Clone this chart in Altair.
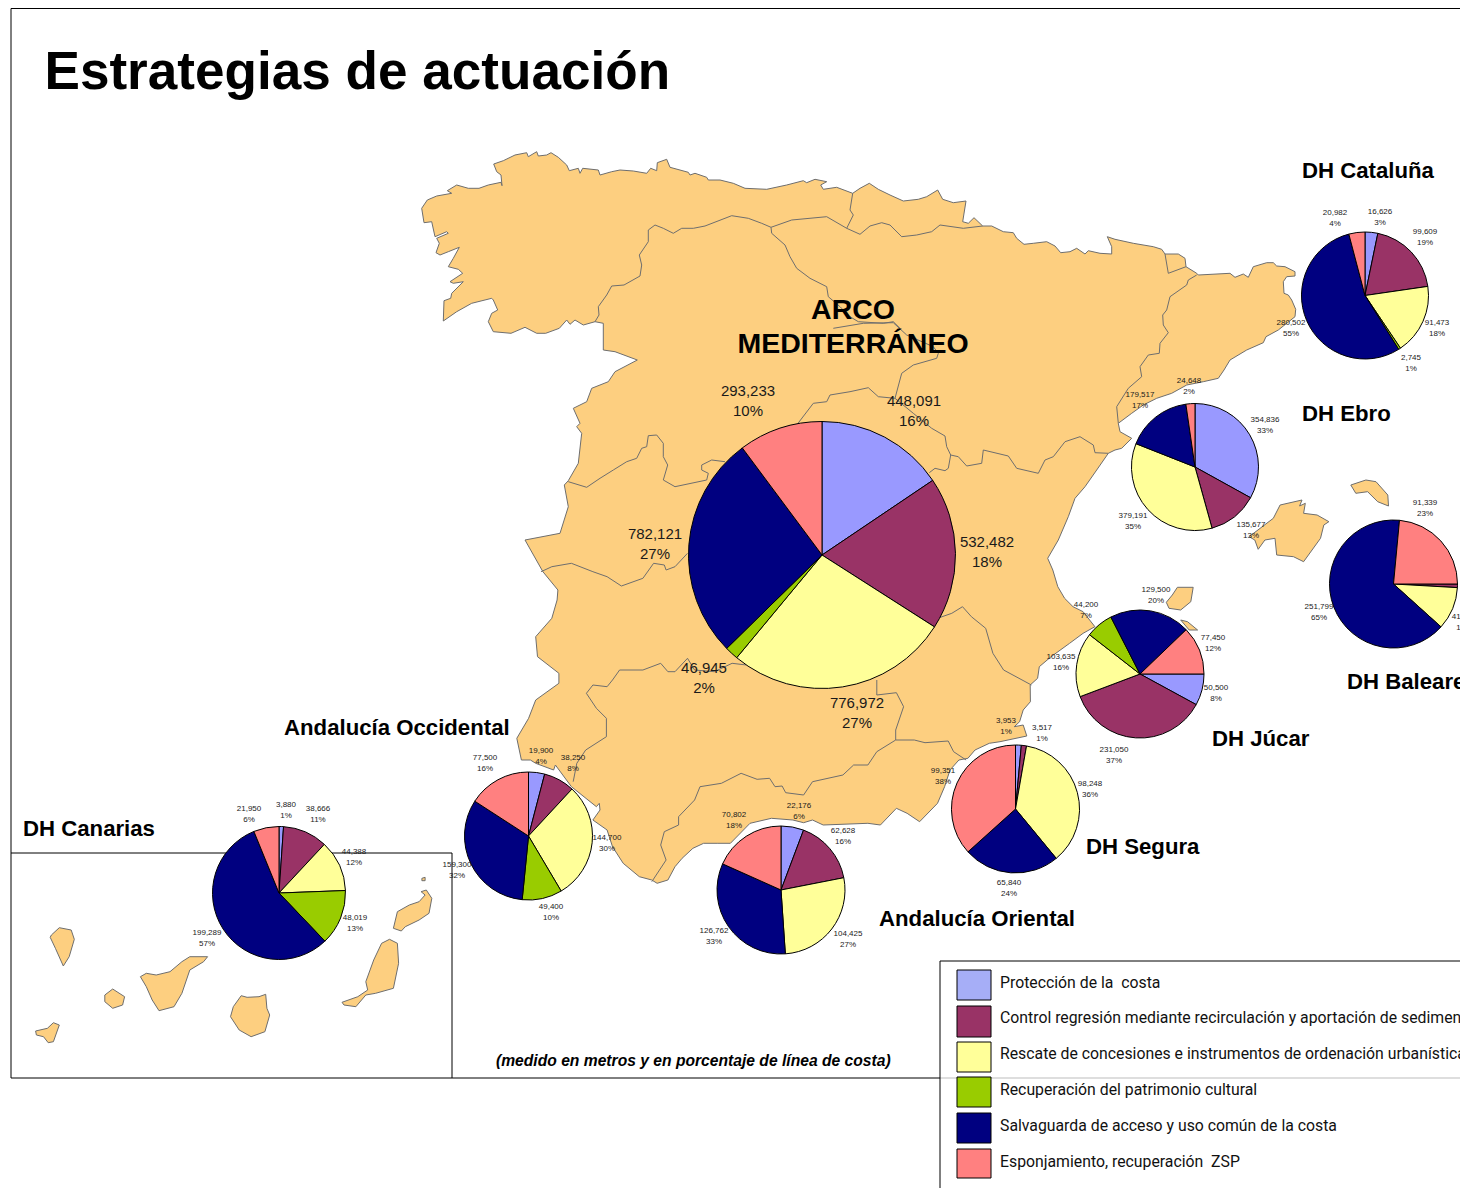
import altair as alt
import pandas as pd

# ---------- categories and colours ----------
CATEGORIES = ["Protección de la\u00a0 costa",
              "Control regresión mediante recirculación y aportación de sedimentos",
              "Rescate de concesiones e instrumentos de ordenación urbanística",
              "Recuperación del patrimonio cultural",
              "Salvaguarda de acceso y uso común de la costa",
              "Esponjamiento, recuperación\u00a0 ZSP"]
COLORS = ["#9999FF", "#993366", "#FFFF99", "#99CC00", "#000080", "#FF8080"]
LEGEND_COLORS = ["#A6AEF7", "#993366", "#FFFF99", "#99CC00", "#000080", "#FF8080"]

# ---------- series (None = the category is absent from that pie) ----------
ARCO = [448091, 532482, 776972, 46945, 782121, 293233]
ARCO_P = ["16%", "18%", "27%", "2%", "27%", "10%"]
CATALUNA = [16626, 99609, 91473, 2745, 280502, 20982]
CATALUNA_P = ["3%", "19%", "18%", "1%", "55%", "4%"]
EBRO = [354836, 135677, 379191, None, 179517, 24648]
EBRO_P = ["33%", "13%", "35%", None, "17%", "2%"]
BALEARES = [None, 3517, 41900, None, 251799, 91339]
BALEARES_P = [None, "1%", "11%", None, "65%", "23%"]
JUCAR = [50500, 231050, 103635, 44200, 129500, 77450]
JUCAR_P = ["8%", "37%", "16%", "7%", "20%", "12%"]
SEGURA = [3953, 3517, 98248, None, 65840, 99351]
SEGURA_P = ["1%", "1%", "36%", None, "24%", "38%"]
ORIENTAL = [22176, 62628, 104425, None, 126762, 70802]
ORIENTAL_P = ["6%", "16%", "27%", None, "33%", "18%"]
OCCIDENTAL = [19900, 38250, 144700, 49400, 159300, 77500]
OCCIDENTAL_P = ["4%", "8%", "30%", "10%", "32%", "16%"]
CANARIAS = [3880, 38666, 44388, 48019, 199289, 21950]
CANARIAS_P = ["1%", "11%", "12%", "13%", "57%", "6%"]

# ---------- layout, separate from the values ----------
PIES = [
    (ARCO, ARCO_P, 822, 555, 133.5, 0, 15, 20,
     [(914, 401), (987, 542), (857, 703), (704, 668), (655, 534), (748, 391)]),
    (CATALUNA, CATALUNA_P, 1365, 295.5, 63.5, 0, 8, 10.5,
     [(1380, 212), (1425, 232), (1437, 323), (1411, 358), (1291, 323), (1335, 213)]),
    (EBRO, EBRO_P, 1195, 467, 63.5, 0, 8, 10.5,
     [(1265, 420), (1251, 525), (1133, 516), None, (1140, 395), (1189, 381)]),
    (BALEARES, BALEARES_P, 1393.5, 584, 64, 0.25, 8, 11,
     [None, (1471, 579), (1464, 617), None, (1319, 607), (1425, 503)]),
    (JUCAR, JUCAR_P, 1140, 674, 64, 0.25, 8, 10.5,
     [(1216, 688), (1114, 750), (1061, 657), (1086, 605), (1156, 590), (1213, 638)]),
    (SEGURA, SEGURA_P, 1015.5, 809, 64, 0, 8, 10.5,
     [(1006, 721), (1042, 728), (1090, 784), None, (1009, 883), (943, 771)]),
    (ORIENTAL, ORIENTAL_P, 781, 890, 64, 0, 8, 10.5,
     [(799, 806), (843, 831), (848, 934), None, (714, 931), (734, 815)]),
    (OCCIDENTAL, OCCIDENTAL_P, 528.5, 836, 64, 0, 8, 11,
     [(541, 751), (573, 758), (607, 838), (551, 907), (457, 865), (485, 758)]),
    (CANARIAS, CANARIAS_P, 279, 893, 66.5, 0, 8, 10.5,
     [(286, 805), (318, 809), (354, 852), (355, 918), (207, 933), (249, 809)]),
]

HEADINGS = [("Estrategias de actuación", 44.5, 73, 53.1),
            ("DH Cataluña", 1302, 171, 22.2), ("DH Ebro", 1302, 414, 22.2),
            ("DH Baleares", 1347, 682, 22.2), ("DH Júcar", 1212, 739, 22.2),
            ("DH Segura", 1086, 847, 22.2), ("Andalucía Oriental", 879, 919, 22.2),
            ("Andalucía Occidental", 284, 728, 22.2), ("DH Canarias", 23, 829, 22.2)]
ARCO_TITLE = [("ARCO", 853, 310, 28.5), ("MEDITERRÁNEO", 853, 344, 28.5)]
NOTE = "(medido en metros y en porcentaje de línea de costa)"

# ---------- map outlines ----------
def seg(ox, oy, sx, sy, pts):
    return [[round(ox + a / sx, 1), round(oy + b / sy, 1)] for a, b in pts]

MAIN_COAST = (
    seg(400, 140, 3, 3, [(65,205),(82,180),(110,168),(155,160),(142,152),(170,135),(205,145),(237,145),(265,135),(303,127),(306,137),(303,105),(290,95),(281,72),(310,62),(345,45),(380,38),(385,50),(410,35),(415,48),(440,45),(453,38),(475,52),(500,75),(508,92),(535,85),(540,100),(548,85),(595,90),(600,105),(635,95),(660,90),(700,93),(740,100),(752,85),(770,92),(772,68),(800,58),(810,82),(865,97),(870,105),(885,100),(920,112),(925,120),(960,120),(1000,130),(1035,145),(1100,148),(1160,135),(1210,122),(1220,128),(1245,118),(1280,125),(1262,135),(1270,148),(1310,142),(1358,160)])
  + seg(800, 140, 3, 3, [(180,145),(208,130),(235,148),(270,165),(310,183),(355,178),(380,170),(413,150),(428,178),(460,188),(498,183),(488,245),(505,250),(522,233),(548,258),(575,258),(610,275),(640,278),(650,295),(672,313),(700,310),(740,305),(765,318),(782,338),(810,335),(830,325),(855,342),(865,332),(900,340),(935,342),(935,320),(922,290),(945,298),(1000,310),(1060,320),(1085,328),(1095,342),(1135,342),(1155,355),(1158,380),(1190,400),(1195,405),(1290,400),(1305,412),(1330,402),(1345,412),(1360,380),(1400,368),(1420,368),(1430,378),(1455,380),(1485,395)])
  + seg(1100, 150, 3, 3, [(585,378),(560,380),(550,395),(552,430),(565,435),(575,450),(587,478),(585,500),(560,520),(535,540),(498,560),(490,578),(440,600),(390,630),(372,660),(355,685),(310,695),(260,705),(215,730),(170,745),(130,765),(95,790),(55,820)])
  + seg(800, 140, 3, 3, [(960,875),(995,895),(965,925),(945,930),(925,940),(890,990),(855,1040),(825,1075),(805,1130),(775,1200)])
  + seg(940, 470, 2.97, 3, [(320,265),(335,300),(350,350),(370,385),(395,410),(425,425),(460,470),(425,490),(385,520),(330,560),(295,590),(290,625),(268,645)])
  + seg(500, 530, 2.8, 3, [(1485,515),(1465,540),(1455,575),(1440,590),(1465,585),(1475,618),(1400,635),(1370,640),(1330,660),(1310,685),(1285,690),(1260,720),(1245,770),(1225,820),(1175,875),(1140,850),(1110,835),(1065,885),(1030,880),(905,885),(875,870),(850,878),(820,870),(760,865),(700,880),(645,940),(610,940),(570,940),(540,955),(510,985),(490,1010),(470,1050),(440,1060),(425,1050),(390,1040),(345,1000),(315,950),(300,900),(260,870),(280,840),(278,820),(270,830),(200,770),(155,705),(150,720),(100,700),(85,690),(60,690),(47,625),(80,565),(100,510),(165,460),(165,430),(105,380),(100,320),(145,265),(160,210),(162,180),(120,125),(70,30)])
  + seg(400, 140, 3, 3, [(480,1180),(505,1100),(493,1035),(505,1022),(535,970),(545,880),(530,860),(540,850),(520,805),(560,785),(575,745),(625,725),(645,695),(712,660),(645,635),(610,630),(610,550),(585,545),(550,555),(525,540),(510,553),(500,540),(478,565),(437,580),(410,580),(375,562),(333,580),(280,575),(265,545),(275,520),(293,510),(280,480),(275,475),(215,490),(170,515),(130,543),(132,482),(152,475),(155,460),(190,425),(160,430),(150,425),(188,400),(175,388),(145,380),(160,355),(178,322),(145,335),(120,345),(108,338),(118,310),(110,295),(145,280),(140,275),(105,290),(95,245),(72,248),(65,205)])
)

ISLANDS = [
    seg(940, 470, 2.97, 3, [(1155,155),(1140,165),(1130,205),(1080,275),(1050,260),(1000,255),(995,205),(965,210),(945,238),(935,210),(918,200),(990,145),(1010,105),(1075,90),(1068,108),(1085,100),(1080,130),(1120,135),(1155,155)]),
    seg(940, 470, 2.97, 3, [(1220,45),(1265,30),(1295,35),(1330,75),(1332,108),(1300,95),(1270,65),(1235,70),(1220,45)]),
    seg(940, 470, 2.97, 3, [(690,375),(705,352),(752,352),(745,395),(715,420),(680,415),(672,397),(690,375)]),
    seg(940, 470, 2.97, 3, [(715,450),(735,455),(765,480),(740,480),(715,450)]),
    seg(0, 700, 2.529, 3, [(130,705),(150,683),(180,690),(188,718),(175,770),(160,798),(140,745),(127,712),(130,705)]),
    seg(0, 700, 2.529, 3, [(265,885),(285,867),(315,890),(310,915),(285,925),(265,905),(265,885)]),
    seg(0, 700, 2.529, 3, [(90,993),(120,985),(135,968),(150,975),(135,1025),(122,1028),(110,1010),(92,1005),(90,993)]),
    seg(0, 700, 2.529, 3, [(355,830),(370,820),(395,825),(430,815),(460,785),(480,770),(525,770),(515,785),(480,810),(460,880),(440,920),(402,932),(385,900),(370,860),(355,830)]),
    seg(0, 700, 2.529, 3, [(610,887),(625,892),(655,890),(672,883),(675,925),(682,945),(670,995),(635,1010),(605,990),(583,950),(590,920),(610,887)]),
    seg(0, 700, 2.529, 3, [(865,907),(905,890),(930,870),(925,845),(945,780),(965,730),(985,718),(1005,730),(1008,790),(995,865),(950,880),(925,885),(900,920),(870,915),(865,907)]),
    seg(0, 700, 2.529, 3, [(995,685),(1005,635),(1035,615),(1060,605),(1075,585),(1065,575),(1078,570),(1092,595),(1085,640),(1060,660),(1025,680),(1015,693),(995,685)]),
    seg(0, 700, 2.529, 3, [(1067,535),(1075,532),(1075,542),(1067,542),(1067,535)]),
]

BASINS = [
    seg(400, 140, 3, 3, [(585,545),(597,525),(595,500),(620,465),(635,438),(672,435),(720,408),(725,375),(718,345),(745,305),(745,270),(765,255),(790,265),(820,280),(845,265),(880,265),(915,258),(995,227),(1045,235),(1085,250),(1113,262),(1115,280),(1155,315),(1170,350),(1190,385),(1230,415),(1280,440),(1285,470),(1320,500),(1350,530),(1375,545),(1450,550),(1480,545),(1500,565)]),
    seg(400, 140, 3, 3, [(1113,262),(1175,240),(1280,230),(1340,265),(1360,225),(1350,210),(1358,160)]),
    seg(800, 140, 3, 3, [(140,265),(180,283),(210,258),(245,248),(270,255),(305,290),(350,285),(395,275),(420,255),(490,265),(548,258)]),
    seg(800, 140, 3, 3, [(100,565),(190,550),(280,548),(320,585),(400,620),(415,640),(410,655),(340,675),(305,700),(285,775),(340,820),(395,865),(435,888),(440,920),(452,945),(445,985),(435,992),(405,985),(388,998)]),
    seg(800, 140, 3, 3, [(452,945),(475,950),(500,978),(545,970),(550,930),(625,948),(650,985),(715,1000),(735,960),(760,950),(795,905),(840,890),(880,915),(885,938),(925,940)]),
    seg(800, 140, 3, 3, [(-10,855),(40,790),(80,785),(90,765),(150,755),(205,743),(235,770),(285,775)]),
    seg(800, 140, 3, 3, [(1095,342),(1105,400),(1158,380)]),
    seg(800, 140, 3, 3, [(1190,405),(1165,420),(1160,435),(1110,470),(1100,510),(1088,525),(1090,555),(1105,578),(1080,610),(1078,640),(1045,645),(1020,680),(1025,710),(985,745),(950,800),(955,850)]),
    seg(400, 140, 3, 3, [(505,1025),(560,1042),(600,1015),(640,990),(680,965),(710,955),(725,925),(740,920),(745,887),(770,885),(790,910),(790,950),(803,975),(790,1020),(825,1040),(920,1020),(925,1000),(905,990),(905,975),(935,960),(975,965)]),
    seg(500, 530, 2.8, 3, [(115,125),(145,110),(200,100),(260,125),(300,140),(340,168),(400,145),(430,100),(460,105),(465,120),(490,110),(525,70)]),
    seg(500, 530, 2.8, 3, [(690,405),(650,400),(600,425),(545,420),(525,385),(490,425),(470,425),(450,400),(400,420),(335,420),(315,450),(300,470),(260,465),(242,490),(270,535),(298,565),(298,620),(240,660),(215,700),(205,755)]),
    seg(500, 530, 2.8, 3, [(425,1055),(465,990),(450,945),(460,905),(500,885),(500,860),(545,810),(560,770),(620,760),(675,730),(720,748),(755,745),(770,770),(790,768),(800,788),(850,795),(875,755),(960,735),(990,705),(1030,705),(1055,665),(1108,630)]),
    seg(500, 530, 2.8, 3, [(1055,450),(1055,495),(1110,488),(1130,530),(1108,600),(1108,630),(1160,630),(1190,638),(1255,633),(1270,665),(1305,690)]),
    seg(500, 530, 2.8, 3, [(1225,265),(1265,250),(1295,230),(1320,260),(1360,295),(1380,370),(1410,420),(1488,465)]),
]

FRAME = [(11, 8.5, 1468, 8.5, "#000000"), (11, 8.5, 11, 1078, "#000000"),
         (11, 1078, 940, 1078, "#000000"), (940, 1078, 1468, 1078, "#BDBDBD"),
         (11, 853, 452, 853, "#000000"), (452, 853, 452, 1078, "#000000"),
         (940, 961, 1468, 961, "#000000"), (940, 961, 940, 1188, "#000000")]
SWATCH_Y = [(970, 1000), (1006, 1037), (1042, 1072), (1077, 1107), (1113, 1143), (1149, 1178)]
LEGEND_TEXT_Y = [983, 1018, 1054, 1090, 1126, 1162]

# ---------- tables ----------
slices, labels = [], []
for vals, pcts, cx, cy, r, start, fs, lh, pos in PIES:
    total = sum(v for v in vals if v)
    cum = 0
    for i, v in enumerate(vals):
        if not v:
            continue
        slices.append({"cat": CATEGORIES[i], "cx": cx, "cy": cy, "r": r,
                       "t0": start + cum / total, "t1": start + (cum + v) / total})
        cum += v
        lx, ly = pos[i]
        labels.append({"x": lx, "y": ly, "t": f"{v:,}", "fs": fs})
        labels.append({"x": lx, "y": ly + lh, "t": pcts[i], "fs": fs})

XS = alt.Scale(domain=[8, 1460], range=[0, 1452], nice=False, zero=False)
YS = alt.Scale(domain=[8, 1188], range=[0, 1180], nice=False, zero=False)
CS = alt.Scale(domain=CATEGORIES, range=COLORS)

def X(f): return alt.X(f, scale=XS, axis=None)
def Y(f): return alt.Y(f, scale=YS, axis=None)

def poly(rings):
    return [{"type": "Feature", "properties": {},
             "geometry": {"type": "Polygon", "coordinates": [ring]}} for ring in rings]

land = alt.Chart(alt.Data(values=poly([MAIN_COAST] + ISLANDS))).mark_geoshape(
    fill="#FDCF80", stroke="#6E6E6E", strokeWidth=1).project(type="identity", scale=1, translate=[-8, -8])
basins = alt.Chart(alt.Data(values=[
    {"type": "Feature", "properties": {},
     "geometry": {"type": "LineString", "coordinates": b}} for b in BASINS])).mark_geoshape(
    filled=False, stroke="#6E6E6E", strokeWidth=1).project(type="identity", scale=1, translate=[-8, -8])

frame_df = pd.DataFrame(FRAME, columns=["x", "y", "x2", "y2", "c"])
frame = alt.Chart(frame_df).mark_rule(strokeWidth=1).encode(
    x=X("x:Q"), y=Y("y:Q"), x2="x2:Q", y2="y2:Q", color=alt.Color("c:N", scale=None))

pies = alt.Chart(pd.DataFrame(slices)).mark_arc(stroke="#000000", strokeWidth=1).encode(
    x=X("cx:Q"), y=Y("cy:Q"),
    theta=alt.Theta("t0:Q", scale=alt.Scale(domain=[0, 1], range=[0, 6.283185307])),
    theta2="t1:Q",
    radius=alt.Radius("r:Q", scale=None),
    color=alt.Color("cat:N", scale=CS, legend=None),
    order=alt.Order("t0:Q"))

label_layer = alt.Chart(pd.DataFrame(labels)).mark_text(
    font="Liberation Sans", align="center", baseline="middle", color="#1a1a1a").encode(
    x=X("x:Q"), y=Y("y:Q"), text="t:N", size=alt.Size("fs:Q", scale=None))

head_df = pd.DataFrame(HEADINGS, columns=["t", "x", "y", "fs"])
heads = alt.Chart(head_df).mark_text(
    font="Liberation Sans", fontWeight="bold", align="left", baseline="middle", color="#000000").encode(
    x=X("x:Q"), y=Y("y:Q"), text="t:N", size=alt.Size("fs:Q", scale=None))
arco_df = pd.DataFrame(ARCO_TITLE, columns=["t", "x", "y", "fs"])
arco = alt.Chart(arco_df).mark_text(
    font="Liberation Sans", fontWeight="bold", align="center", baseline="middle", color="#000000").encode(
    x=X("x:Q"), y=Y("y:Q"), text="t:N", size=alt.Size("fs:Q", scale=None))

note = alt.Chart(pd.DataFrame([{"t": NOTE, "x": 496, "y": 1061}])).mark_text(
    font="Liberation Sans", fontWeight="bold", fontStyle="italic", fontSize=15.65,
    align="left", baseline="middle", color="#000000").encode(
    x=X("x:Q"), y=Y("y:Q"), text="t:N")

swatch_df = pd.DataFrame([{"c": c, "x": 957, "x2": 991, "y": a, "y2": b}
                          for c, (a, b) in zip(LEGEND_COLORS, SWATCH_Y)])
swatches = alt.Chart(swatch_df).mark_rect(stroke="#000000", strokeWidth=1).encode(
    x=X("x:Q"), x2="x2:Q", y=Y("y:Q"), y2="y2:Q", color=alt.Color("c:N", scale=None))
legend_df = pd.DataFrame({"t": CATEGORIES, "x": [1000] * 6, "y": LEGEND_TEXT_Y})
legend_text = alt.Chart(legend_df).mark_text(
    font="Roboto", fontSize=15.8, align="left", baseline="middle", color="#111111").encode(
    x=X("x:Q"), y=Y("y:Q"), text="t:N")

chart = alt.layer(land, basins, frame, pies, label_layer, heads, arco, note, swatches, legend_text).resolve_scale(
    color="independent"
).properties(
    width=1452, height=1180, padding=0, background="#FFFFFF",
    autosize=alt.AutoSizeParams(type="none")
).configure_view(stroke=None)

chart.save("out.html", embed_options={"renderer": "svg", "actions": False})
